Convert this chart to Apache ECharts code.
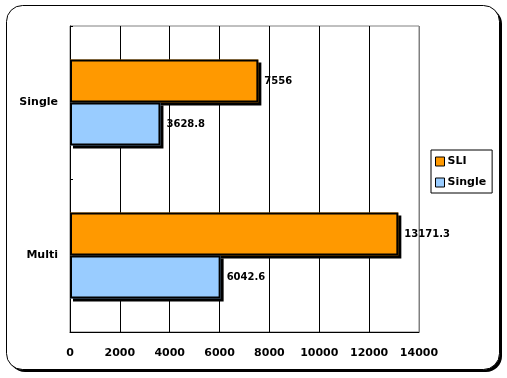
<!DOCTYPE html>
<html>
<head>
<meta charset="utf-8">
<script src="https://cdn.jsdelivr.net/npm/echarts@6/dist/echarts.min.js"></script>
<style>
html, body { margin: 0; padding: 0; background: #fff; }
#main { width: 507px; height: 378px; }
</style>
</head>
<body>
<div id="main"></div>
<script>
var categories = ['Single', 'Multi'];
var sliValues = [7556, 13171.3];
var singleValues = [3628.8, 6042.6];
var seriesNames = ['SLI', 'Single'];

var font = 'DejaVu Sans';

// filled bar with hard black drop shadow (no border, so the shadow stays outside)
var fillStyle = function (color) {
    return {
        color: color,
        borderWidth: 0,
        shadowColor: '#000',
        shadowBlur: 0,
        shadowOffsetX: 3,
        shadowOffsetY: 3
    };
};

// black outline drawn on a twin axis over the filled bars
var outlineStyle = {
    color: 'rgba(0,0,0,0)',
    borderColor: '#000',
    borderWidth: 2
};

var labelStyle = {
    show: true,
    position: 'right',
    distance: 6,
    color: '#000',
    fontFamily: font,
    fontWeight: 'bold',
    fontSize: 10
};

var catAxis = function (shown) {
    return {
        type: 'category',
        data: categories,
        inverse: true,
        show: shown,
        position: 'left',
        axisLine: { show: true, lineStyle: { color: '#000' } },
        axisTick: { show: true, inside: true, length: 3, lineStyle: { color: '#000' } },
        axisLabel: {
            color: '#000',
            fontFamily: font,
            fontWeight: 'bold',
            fontSize: 11,
            margin: 12
        }
    };
};

var option = {
    animation: false,
    backgroundColor: '#fff',
    graphic: {
        elements: [
            {
                // frame shadow
                type: 'rect',
                z: -11,
                shape: { x: 9, y: 8, width: 493, height: 364, r: 16 },
                style: { fill: '#000' }
            },
            {
                type: 'rect',
                z: -10,
                shape: { x: 6.5, y: 5.5, width: 493, height: 364, r: 16 },
                style: { fill: '#fff', stroke: '#000', lineWidth: 1 }
            }
        ]
    },
    grid: {
        left: 70,
        right: 88,
        top: 26,
        bottom: 46,
        show: true,
        borderColor: '#808080',
        borderWidth: 1
    },
    legend: {
        data: seriesNames,
        orient: 'vertical',
        left: 431,
        top: 150,
        padding: [6, 6, 5, 4],
        itemGap: 10,
        itemWidth: 9,
        itemHeight: 9,
        icon: 'rect',
        borderColor: '#000',
        borderWidth: 1,
        itemStyle: {
            borderColor: '#000',
            borderWidth: 1,
            shadowColor: 'transparent',
            shadowOffsetX: 0,
            shadowOffsetY: 0
        },
        textStyle: {
            color: '#000',
            fontFamily: font,
            fontWeight: 'bold',
            fontSize: 11,
            padding: [0, 0, 0, -2]
        }
    },
    xAxis: {
        type: 'value',
        min: 0,
        max: 14000,
        interval: 2000,
        axisLine: { show: true, lineStyle: { color: '#000' } },
        axisTick: { show: false },
        axisLabel: {
            color: '#000',
            fontFamily: font,
            fontWeight: 'bold',
            fontSize: 11,
            margin: 16,
            formatter: function (v) { return String(v); }
        },
        splitLine: {
            show: true,
            lineStyle: {
                color: ['#000', '#000', '#000', '#000', '#000', '#000', '#000', '#808080'],
                width: 1
            }
        }
    },
    yAxis: [catAxis(true), catAxis(false)],
    series: [
        {
            name: seriesNames[0],
            type: 'bar',
            yAxisIndex: 0,
            data: sliValues,
            barWidth: 43,
            barGap: '0%',
            itemStyle: fillStyle('#ff9900'),
            label: labelStyle
        },
        {
            name: seriesNames[1],
            type: 'bar',
            yAxisIndex: 0,
            data: singleValues,
            barWidth: 43,
            barGap: '0%',
            itemStyle: fillStyle('#99ccff'),
            label: labelStyle
        },
        {
            name: 'SLI outline',
            type: 'bar',
            yAxisIndex: 1,
            data: sliValues,
            barWidth: 43,
            barGap: '0%',
            silent: true,
            z: 3,
            itemStyle: outlineStyle
        },
        {
            name: 'Single outline',
            type: 'bar',
            yAxisIndex: 1,
            data: singleValues,
            barWidth: 43,
            barGap: '0%',
            silent: true,
            z: 3,
            itemStyle: outlineStyle
        }
    ]
};

var myChart = echarts.init(document.getElementById('main'));
myChart.setOption(option);
</script>
</body>
</html>
